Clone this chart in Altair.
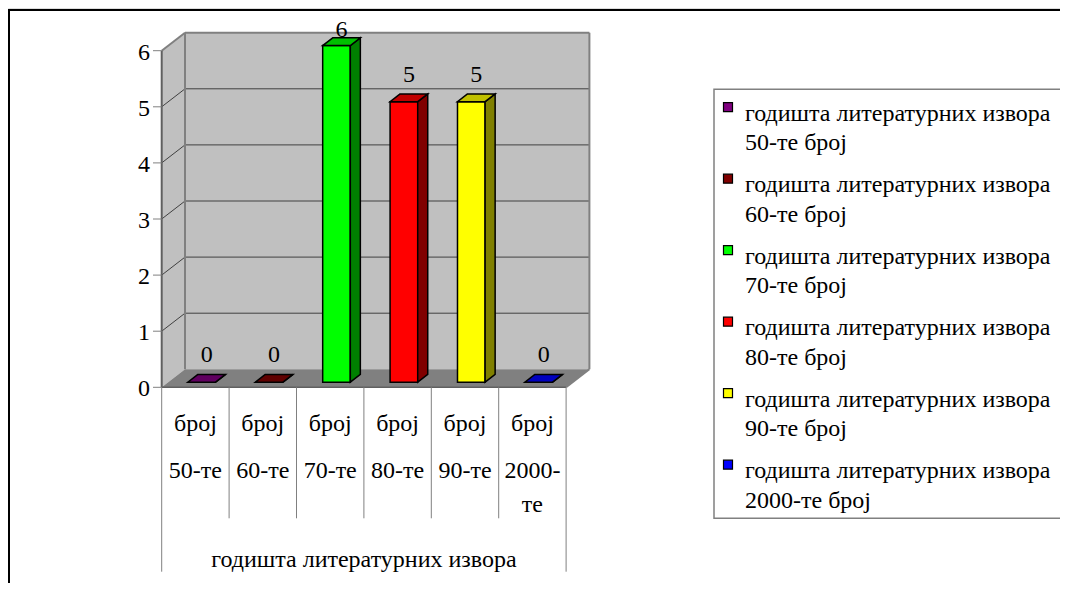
import altair as alt
import pandas as pd

# ---------------- data ----------------
series_name = "годишта литературних извора"
measure = "број"
categories = ["50-те", "60-те", "70-те", "80-те", "90-те", "2000-те"]
values = [0, 0, 6, 5, 5, 0]
front_colors = ["#800080", "#800000", "#00ff00", "#ff0000", "#ffff00", "#0000ff"]
top_colors = ["#600060", "#600000", "#00c000", "#c00000", "#c0c000", "#0000c0"]
side_colors = ["#400040", "#400000", "#008000", "#800000", "#808000", "#000080"]
y_ticks = [0, 1, 2, 3, 4, 5, 6]

# ---------------- layout (page pixels) ----------------
W, H = 1052, 575
X0, CW = 161.7, 67.4      # front axis x, width of one category cell
Y0, S = 387.3, 56.1       # front baseline y, pixels per unit
DEPTH_X, DEPTH_Y = 23.3, 18.0
FONT = "'Liberation Serif', 'Times New Roman', 'DejaVu Serif', serif"
FS = 24


def U(px):
    return (px - X0) / CW


def V(py):
    return (Y0 - py) / S


DX = DEPTH_X / CW
DY = DEPTH_Y / S
N = len(categories)
YMAX = max(y_ticks)
BL, BR = 0.29, 0.70       # bar left/right inside a cell
FD, BD = 0.285, 0.43      # bar front depth and bar depth (fractions)

xs = alt.Scale(domain=[U(8), U(8 + W)], nice=False, zero=False)
ys = alt.Scale(domain=[V(8 + H), V(8)], nice=False, zero=False)


def X(f, **kw):
    return alt.X(f, scale=xs, axis=None, **kw)


def Y(f, **kw):
    return alt.Y(f, scale=ys, axis=None, **kw)


def rules(rows):
    df = pd.DataFrame(rows, columns=["u", "v", "u2", "v2", "c", "w"])
    return alt.Chart(df).mark_rule().encode(
        x=X("u:Q"), x2="u2:Q", y=Y("v:Q"), y2="v2:Q",
        color=alt.Color("c:N", scale=None),
        strokeWidth=alt.StrokeWidth("w:Q", scale=None))


def rects(rows):
    df = pd.DataFrame(rows, columns=["u", "u2", "v", "v2", "f", "s", "w"])
    return alt.Chart(df).mark_rect().encode(
        x=X("u:Q"), x2="u2:Q", y=Y("v:Q"), y2="v2:Q",
        fill=alt.Fill("f:N", scale=None),
        stroke=alt.Stroke("s:N", scale=None),
        strokeWidth=alt.StrokeWidth("w:Q", scale=None))


def vareas(rows):
    df = pd.DataFrame(rows, columns=["id", "u", "v", "v2", "f", "s", "w"])
    return alt.Chart(df).mark_area(orient="vertical").encode(
        x=X("u:Q"), y=Y("v:Q", stack=None), y2="v2:Q", detail="id:N",
        fill=alt.Fill("f:N", scale=None),
        stroke=alt.Stroke("s:N", scale=None),
        strokeWidth=alt.StrokeWidth("w:Q", scale=None))


def hareas(rows):
    df = pd.DataFrame(rows, columns=["id", "v", "u", "u2", "f", "s", "w"])
    return alt.Chart(df).mark_area(orient="horizontal").encode(
        y=Y("v:Q"), x=X("u:Q", stack=None), x2="u2:Q", detail="id:N",
        fill=alt.Fill("f:N", scale=None),
        stroke=alt.Stroke("s:N", scale=None),
        strokeWidth=alt.StrokeWidth("w:Q", scale=None))


def texts(rows, **mk):
    df = pd.DataFrame(rows, columns=["u", "v", "t"])
    return alt.Chart(df).mark_text(font=FONT, fontSize=FS, color="black", **mk).encode(
        x=X("u:Q"), y=Y("v:Q"), text="t:N")


layers = []

# outer frame
layers.append(rules([
    (U(8), V(10), U(1075), V(10), "black", 2),
    (U(9), V(9), U(9), V(600), "black", 2),
]))

# walls and floor
layers.append(rects([(DX, N + DX, DY, YMAX + DY, "#c0c0c0", "transparent", 0)]))
layers.append(vareas([("side", 0, 0, YMAX, "#c0c0c0", "transparent", 0),
                      ("side", DX, DY, YMAX + DY, "#c0c0c0", "transparent", 0)]))
layers.append(hareas([("floor", 0, 0, N, "#808080", "transparent", 0),
                      ("floor", DY, DX, N + DX, "#808080", "transparent", 0)]))

# gridlines
grid = []
for t in y_ticks[1:-1]:
    grid.append((DX, t + DY, N + DX, t + DY, "#404040", 1))
    grid.append((0, t, DX, t + DY, "#404040", 1))
grid += [
    (DX, YMAX + DY, N + DX, YMAX + DY, "#808080", 2),
    (0, YMAX, DX, YMAX + DY, "#808080", 2),
    (DX, DY, DX, YMAX + DY, "#808080", 2),
    (N + DX, DY, N + DX, YMAX + DY, "#808080", 2),
    (N, 0, N + DX, DY, "#808080", 2),
    (0, 0, 0, YMAX, "#606060", 2),
    (0, 0, N, 0, "#606060", 1.5),
]
for t in y_ticks:
    grid.append((U(153), t, 0, t, "#808080", 1))
# category table lines
for k in range(N + 1):
    bottom = V(571.7) if k in (0, N) else V(518.3)
    grid.append((k, 0, k, bottom, "#808080", 1))
layers.append(rules(grid))

# bars
fronts, sides, tops, labels = [], [], [], []
for i, (val, fc, tc, sc) in enumerate(zip(values, front_colors, top_colors, side_colors)):
    l = i + BL + FD * DX
    r = i + BR + FD * DX
    b = FD * DY
    fronts.append((l, r, b, val + b, fc, "black", 1.5))
    sides.append((f"s{i}", r, b, val + b, sc, "black", 1.5))
    sides.append((f"s{i}", r + BD * DX, b + BD * DY, val + b + BD * DY, sc, "black", 1.5))
    tops.append((f"t{i}", val + b, l, r, tc, "black", 1.5))
    tops.append((f"t{i}", val + b + BD * DY, l + BD * DX, r + BD * DX, tc, "black", 1.5))
    labels.append((i + (BL + BR) / 2 + 0.5 * DX, min(val + 0.41, 6.2) + 0.5 * DY, str(val)))
layers.append(rects(fronts))
layers.append(vareas(sides))
layers.append(hareas(tops))
layers.append(texts(labels, align="center", baseline="middle"))

# y tick labels
layers.append(texts([(U(150), t, str(t)) for t in y_ticks], align="right", baseline="middle", dy=2))

# category table text
def wrap(c):
    return c.replace("-", "-\n") if len(c) > 5 else c

layers.append(texts([(i + 0.5, V(431), measure) for i in range(N)], align="center", baseline="alphabetic"))
layers.append(texts([(i + 0.5, V(478), wrap(c)) for i, c in enumerate(categories)],
                    align="center", baseline="alphabetic", lineBreak="\n", lineHeight=34))
layers.append(texts([(N / 2, V(566.7), series_name)], align="center", baseline="alphabetic"))

# legend
layers.append(rects([(U(714), U(1075), V(89.3), V(518.3), "white", "#808080", 1.5)]))
sw = pd.DataFrame({"u": [U(728)] * N, "v": [V(107.2 + 71.5 * i) for i in range(N)], "f": front_colors})
layers.append(alt.Chart(sw).mark_square(size=81, stroke="black", strokeWidth=1.2, opacity=1).encode(
    x=X("u:Q"), y=Y("v:Q"), fill=alt.Fill("f:N", scale=None)))
layers.append(texts([(U(745), V(120.7 + 71.5 * i), series_name) for i in range(N)],
                    align="left", baseline="alphabetic"))
layers.append(texts([(U(745), V(150.2 + 71.5 * i), f"{c} {measure}") for i, c in enumerate(categories)],
                    align="left", baseline="alphabetic"))

chart = alt.layer(*layers).properties(
    width=W, height=H, padding=0, autosize=alt.AutoSizeParams(type="none")
).configure_view(stroke=None).configure(background="white")

chart.save("out.html", embed_options={"renderer": "svg", "actions": False})
